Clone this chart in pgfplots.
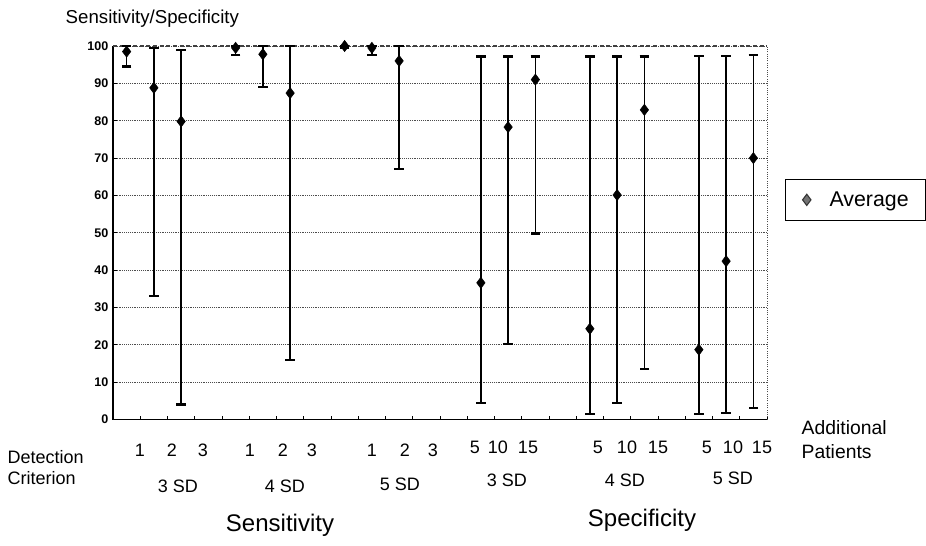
\documentclass[border=0pt]{standalone}
\usepackage{fontspec}
\setmainfont{Liberation Sans}
\usepackage{pgfplots}
\usepackage{pgfplotstable}
\pgfplotsset{compat=1.18}

% slot, average, +err, -err
\pgfplotstableread{
x  y     ep    em
0  98.5  1.5   4.0
1  88.8  10.7  55.8
2  79.8  19.2  75.8
4  99.5  0.5   2.0
5  97.8  2.2   8.8
6  87.4  12.6  71.4
8  100   0.0   0.5
9  99.5  0.5   2.0
10 96.0  4.0   29.0
13 36.6  60.6  32.2
14 78.3  18.9  58.1
15 91.0  6.2   41.2
17 24.3  72.9  22.8
18 60.1  37.1  55.7
19 82.9  14.3  69.4
21 18.7  78.7  17.2
22 42.4  55.0  40.7
23 70.0  27.7  67.0
}\avgdata

\begin{document}
\begin{tikzpicture}
\useasboundingbox (0pt,0pt) rectangle (694.5pt,-409.5pt);
\begin{axis}[
  at={(84.75pt,-314.625pt)}, anchor=south west,
  scale only axis, width=490.5pt, height=280.125pt,
  xmin=-0.5, xmax=23.5, ymin=0, ymax=100,
  axis x line*=bottom, axis y line*=left,
  axis line style={line width=1.1pt, -},
  xtick={-0.5,0.5,...,23.5}, xticklabels={},
  ytick={0,10,...,100},
  tick align=inside, major tick length=3pt,
  tick style={black, line width=0.6pt},
  ymajorgrids, grid style={densely dotted, black!70, line width=0.55pt},
  yticklabel style={font=\bfseries\fontsize{9.4}{10}\selectfont},
  /pgf/number format/assume math mode=true,
  clip=false,
  legend style={at={(1.0275,0.644)}, anchor=north west, draw=black, line width=0.8pt,
    font=\fontsize{16}{18}\selectfont, inner xsep=4pt, inner ysep=7pt},
  legend cell align=left,
  legend image code/.code={\path[draw=none] (0,0) -- (0.95cm,0);
    \draw[#1] plot coordinates {(0.42cm,0cm)};},
]
\draw[black!75, densely dashed, line width=0.8pt] (rel axis cs:0,1) -- (rel axis cs:1,1);
\draw[black!70, densely dotted, line width=0.7pt] (rel axis cs:1,0) -- (rel axis cs:1,1);
\addplot[only marks, mark=diamond*, mark size=4.2pt, black, forget plot,
  error bars/.cd, y dir=both, y explicit, error mark=|,
  error bar style={line width=1pt},
  error mark options={line width=1.6pt, mark size=3.5pt}]
  table[x=x, y=y, y error plus=ep, y error minus=em] {\avgdata};
\addlegendimage{only marks, mark=diamond*, mark size=4.2pt, mark options={fill=black!55, draw=black!80}}
\addlegendentry{\makebox[66pt][l]{Average}}
\end{axis}

\begin{scope}[x=0.75pt,y=-0.75pt]
\node[anchor=west, font=\fontsize{14}{16}\selectfont] at (61,19) {Sensitivity/Specificity};
\node[anchor=west, align=left, font=\fontsize{13.5}{15.75}\selectfont] at (3,467.5) {Detection\\Criterion};
\node[anchor=west, align=left, font=\fontsize{14.5}{18}\selectfont] at (797,440) {Additional\\Patients};
\begin{scope}[font=\fontsize{13.5}{15}\selectfont]
\foreach \px/\t in {140/1,172/2,203/3,250/1,283/2,312/3,372/1,405/2,433/3}
  \node at (\px,450) {\t};
\foreach \px/\t in {475/5,498/10,528/15,598/5,627/10,658/15,707/5,733/10,762/15}
  \node at (\px,447) {\t};
\node at (178,486) {3 SD};
\node at (285,486) {4 SD};
\node at (400,484) {5 SD};
\node at (507,480) {3 SD};
\node at (625,480) {4 SD};
\node at (733,478) {5 SD};
\end{scope}
\node[font=\fontsize{18}{20}\selectfont] at (280,525) {Sensitivity};
\node[font=\fontsize{18}{20}\selectfont] at (642,520) {Specificity};
\end{scope}
\end{tikzpicture}
\end{document}
